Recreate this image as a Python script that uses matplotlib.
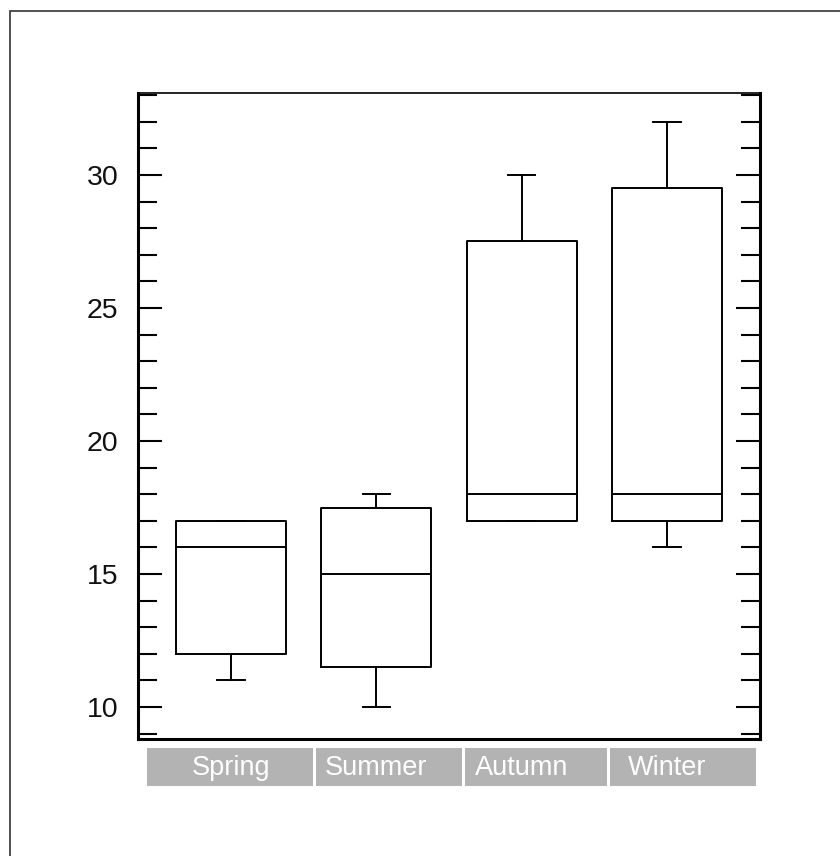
import matplotlib
matplotlib.use("Agg")
import matplotlib.pyplot as plt
from matplotlib.patches import Rectangle
from matplotlib.transforms import blended_transform_factory
from matplotlib.ticker import MultipleLocator

plt.rcParams['font.family'] = ['Liberation Sans', 'DejaVu Sans']

categories = ["Spring", "Summer", "Autumn", "Winter"]
whislo = [11, 10, 17, 16]
q1 = [12, 11.5, 17, 17]
med = [16, 15, 18, 18]
q3 = [17, 17.5, 27.5, 29.5]
whishi = [17, 18, 30, 32]

fig = plt.figure(figsize=(8.4, 8.56), dpi=100)
# outer frame
fig.patches.append(Rectangle((10/840, -0.1), 1.2, 1 - 11/856 + 0.1, transform=fig.transFigure,
                             fill=False, edgecolor='#333333', lw=1.2))
ax = fig.add_axes([138/840, 1 - 739/856, 622/840, 646/856])

stats = []
for i, c in enumerate(categories):
    stats.append(dict(label=c, whislo=whislo[i], q1=q1[i], med=med[i], q3=q3[i],
                      whishi=whishi[i], fliers=[]))
positions = list(range(1, len(categories) + 1))
lp = dict(color='black', lw=1.4)
ax.bxp(stats, positions=positions, widths=0.757, capwidths=0.19, showfliers=False,
       boxprops=lp, whiskerprops=lp, capprops=lp, medianprops=lp,
       manage_ticks=False)

ax.set_xlim(0.36, 4.64)
ax.set_ylim(8.8, 33.08)
ax.set_xticks([])
ax.yaxis.set_major_locator(MultipleLocator(5))
ax.yaxis.set_minor_locator(MultipleLocator(1))
ax.tick_params(axis='y', which='major', direction='in', length=17, width=1.5,
               left=True, right=True, labelsize=20.5, pad=14, labelcolor='#111111')
ax.tick_params(axis='y', which='minor', direction='in', length=13.5, width=1.5,
               left=True, right=True)
for s in ['left', 'right', 'bottom']:
    ax.spines[s].set_linewidth(2.2)
ax.spines['top'].set_linewidth(1.2)

# category label strips
trans = blended_transform_factory(ax.transData, ax.transAxes)
bounds = [0.42, 1.575, 2.6, 3.6, 4.61]
gap = 0.01
for i, c in enumerate(categories):
    x0 = bounds[i] + (gap if i > 0 else 0)
    x1 = bounds[i + 1] - (gap if i < len(categories) - 1 else 0)
    ax.add_patch(Rectangle((x0, -0.0728), x1 - x0, 0.0589, transform=trans,
                           facecolor='#b3b3b3', edgecolor='none', clip_on=False))
    ax.text(positions[i], -0.0445, c, transform=trans, ha='center', va='center',
            color='white', fontsize=19.5)

fig.savefig("out.png", dpi=100)
